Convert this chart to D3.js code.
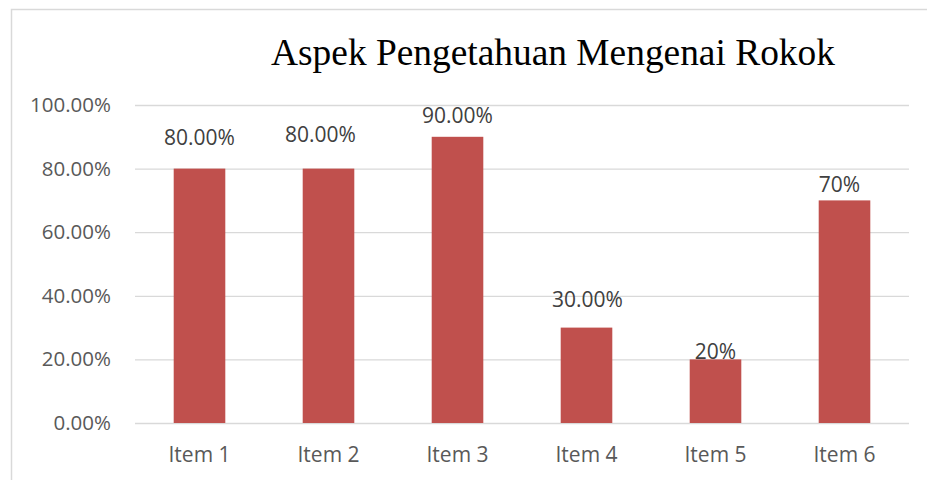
<!DOCTYPE html>
<html>
<head>
<meta charset="utf-8">
<script src="https://cdn.jsdelivr.net/npm/d3@7"></script>
<style>
  body { margin: 0; background: #fff; }
  svg { display: block; }
</style>
</head>
<body>
<div id="chart"></div>
<script>
// chart data
const items = ["Item 1", "Item 2", "Item 3", "Item 4", "Item 5", "Item 6"];
const values = [0.80, 0.80, 0.90, 0.30, 0.20, 0.70];
const valueLabels = ["80.00%", "80.00%", "90.00%", "30.00%", "20%", "70%"];
const yTicks = [0, 0.2, 0.4, 0.6, 0.8, 1.0];
const title = "Aspek Pengetahuan Mengenai Rokok";

const width = 927, height = 480;
const margin = { top: 105, right: 18, bottom: 57, left: 135 };

// the labels in the original sit a bit unevenly above the bars
const labelDx = [0, -8, 0, 1, 0, -5];
const labelDy = [-24, -27, -14, -21, 0, -8];

const svg = d3.select("#chart").append("svg")
    .attr("width", width)
    .attr("height", height);

// frame of the chart area (only left and top edges are visible)
svg.append("path")
    .attr("d", `M11.5,${height} V9.5 H${width}`)
    .attr("fill", "none")
    .attr("stroke", "#d9d9d9")
    .attr("stroke-width", 1.5);

const x = d3.scaleBand()
    .domain(items)
    .range([margin.left, width - margin.right])
    .paddingInner(0.6)
    .paddingOuter(0.3);

const y = d3.scaleLinear()
    .domain([0, 1])
    .range([height - margin.bottom, margin.top]);

// gridlines + y labels
const yAxis = svg.append("g")
    .attr("transform", `translate(${margin.left},0)`)
    .call(d3.axisLeft(y)
        .tickValues(yTicks)
        .tickFormat(d3.format(".2%"))
        .tickSize(-(width - margin.left - margin.right))
        .tickPadding(24));

yAxis.select(".domain").remove();
yAxis.selectAll("line").attr("stroke", "#d9d9d9").attr("stroke-width", 1.3);
yAxis.selectAll("text")
    .attr("fill", "#595959")
    .style("font-family", "'Open Sans', sans-serif")
    .style("font-size", "20.5px");

// bars
svg.selectAll("rect.bar")
    .data(values)
    .join("rect")
    .attr("class", "bar")
    .attr("x", (d, i) => x(items[i]))
    .attr("y", d => y(d))
    .attr("width", x.bandwidth())
    .attr("height", d => y(0) - y(d))
    .attr("fill", "#c0504d");

// value labels
svg.selectAll("text.val")
    .data(values)
    .join("text")
    .attr("class", "val")
    .attr("x", (d, i) => x(items[i]) + x.bandwidth() / 2 + labelDx[i])
    .attr("y", (d, i) => y(d) + labelDy[i])
    .attr("text-anchor", "middle")
    .attr("fill", "#404040")
    .style("font-family", "'Open Sans', sans-serif")
    .style("font-size", "21px")
    .text((d, i) => valueLabels[i]);

// x labels
const xAxis = svg.append("g")
    .attr("transform", `translate(0,${height - margin.bottom})`)
    .call(d3.axisBottom(x).tickSize(0).tickPadding(24));

xAxis.select(".domain").remove();
xAxis.selectAll("text")
    .attr("fill", "#595959")
    .style("font-family", "'Open Sans', sans-serif")
    .style("font-size", "21px");

// title
svg.append("text")
    .attr("x", 553)
    .attr("y", 65)
    .attr("text-anchor", "middle")
    .attr("fill", "#000")
    .style("font-family", "'Liberation Serif', 'Times New Roman', serif")
    .style("font-size", "37.4px")
    .text(title);
</script>
</body>
</html>
